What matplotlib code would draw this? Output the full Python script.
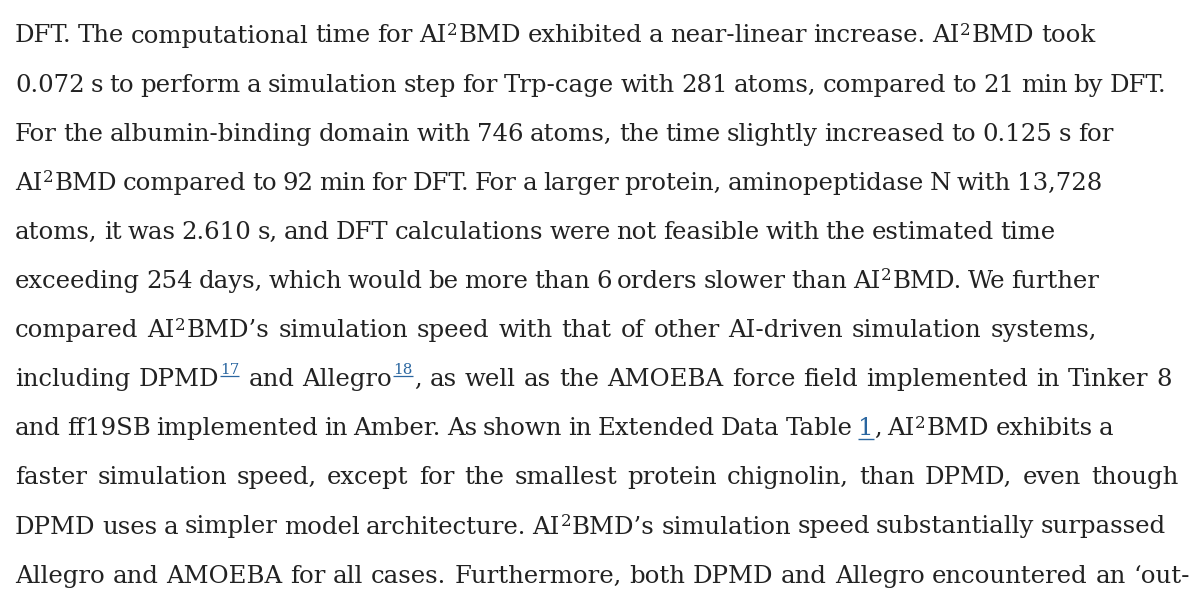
import re

import matplotlib
matplotlib.use("Agg")
from matplotlib import pyplot as plt

# paragraph text, one entry per printed line
# {x} = superscript, <x> = superscript reference link, [x] = inline link
lines = [
    "DFT. The computational time for AI{2}BMD exhibited a near-linear increase. AI{2}BMD took",
    "0.072 s to perform a simulation step for Trp-cage with 281 atoms, compared to 21 min by DFT.",
    "For the albumin-binding domain with 746 atoms, the time slightly increased to 0.125 s for",
    "AI{2}BMD compared to 92 min for DFT. For a larger protein, aminopeptidase N with 13,728",
    "atoms, it was 2.610 s, and DFT calculations were not feasible with the estimated time",
    "exceeding 254 days, which would be more than 6 orders slower than AI{2}BMD. We further",
    "compared AI{2}BMD\u2019s simulation speed with that of other AI-driven simulation systems,",
    "including DPMD<17> and Allegro<18>, as well as the AMOEBA force field implemented in Tinker 8",
    "and ff19SB implemented in Amber. As shown in Extended Data Table [1], AI{2}BMD exhibits a",
    "faster simulation speed, except for the smallest protein chignolin, than DPMD, even though",
    "DPMD uses a simpler model architecture. AI{2}BMD\u2019s simulation speed substantially surpassed",
    "Allegro and AMOEBA for all cases. Furthermore, both DPMD and Allegro encountered an \u2018out-",
]

# where each printed line ends (pixels)
line_ends = [1095, 1166, 1113, 1102, 1055, 1099, 1097, 1172, 1113, 1178, 1166, 1190]

W, H = 1200, 597
LEFT = 15
FIRST_BASELINE = 42.5
LINE_STEP = 49.1
FONT = ["DejaVu Serif"]
SIZE = 17.6
TEXT_COLOR = "#222222"
LINK_COLOR = "#2a66a0"

fig = plt.figure(figsize=(W / 100, H / 100), dpi=100)
ax = fig.add_axes([0, 0, 1, 1])
ax.set_xlim(0, W)
ax.set_ylim(H, 0)
ax.axis("off")
renderer = fig.canvas.get_renderer()


def split_runs(word):
    runs = []
    for part in re.split(r"(\{[^}]*\}|<[^>]*>|\[[^\]]*\])", word):
        if not part:
            continue
        if part[0] == "{":
            runs.append((part[1:-1], "sup"))
        elif part[0] == "<":
            runs.append((part[1:-1], "ref"))
        elif part[0] == "[":
            runs.append((part[1:-1], "link"))
        else:
            runs.append((part, "text"))
    return runs


def draw_word(runs, x, y):
    """Draw one word (a list of runs) starting at x; return its width."""
    start = x
    for text, kind in runs:
        if kind == "sup":
            t = ax.text(x + 0.5, y - 7.5, text, fontsize=SIZE * 0.68, family=FONT,
                        color=TEXT_COLOR, va="baseline")
        elif kind == "ref":
            t = ax.text(x + 1, y - 12.5, text, fontsize=SIZE * 0.62, family=FONT,
                        color=LINK_COLOR, va="baseline")
        elif kind == "link":
            t = ax.text(x, y, text, fontsize=SIZE, family=FONT,
                        color=LINK_COLOR, va="baseline")
        else:
            t = ax.text(x, y, text, fontsize=SIZE, family=FONT,
                        color=TEXT_COLOR, va="baseline")
        bb = t.get_window_extent(renderer)
        x0 = t.get_position()[0]
        x1 = x0 + bb.width
        if kind == "ref":
            ax.plot([x0, x1], [y - 10.5, y - 10.5], color=LINK_COLOR, lw=0.9,
                    solid_capstyle="butt")
        elif kind == "link":
            ax.plot([x0, x1], [y + 3.5, y + 3.5], color=LINK_COLOR, lw=1.0,
                    solid_capstyle="butt")
        x = x1 + (1.0 if kind in ("sup", "ref") else 0.0)
    return x - start


for i, line in enumerate(lines):
    y = FIRST_BASELINE + i * LINE_STEP
    words = [split_runs(w) for w in line.split(" ")]

    # measure natural widths first, off-canvas
    widths = []
    for runs in words:
        n_texts = len(ax.texts)
        n_lines = len(ax.lines)
        widths.append(draw_word(runs, -2000, y))
        for t in ax.texts[n_texts:]:
            t.remove()
        for ln in ax.lines[n_lines:]:
            ln.remove()

    gap = (line_ends[i] - LEFT - sum(widths)) / max(len(words) - 1, 1)
    gap = max(gap, 4.0)
    x = LEFT
    for runs, w in zip(words, widths):
        draw_word(runs, x, y)
        x += w + gap

fig.savefig("out.png", dpi=100, facecolor="white")
